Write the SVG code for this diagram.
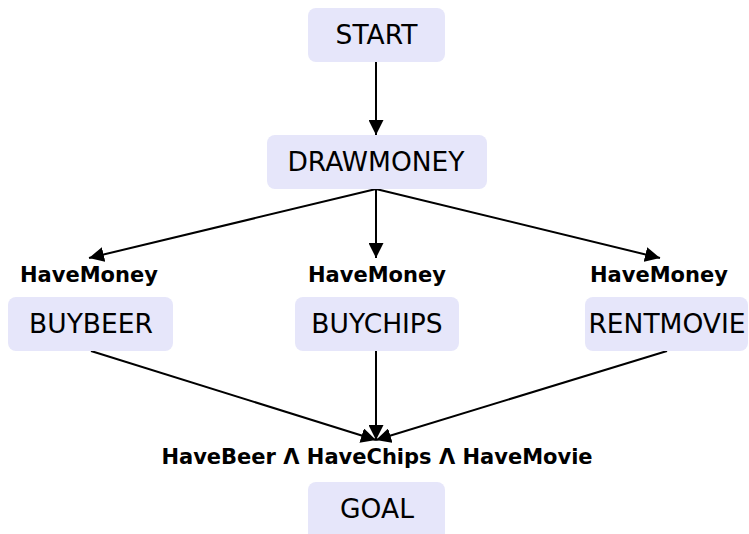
<svg xmlns="http://www.w3.org/2000/svg" width="749" height="534" viewBox="0 0 749 534">
  <style>
    .box { fill: #e6e6fa; }
    .name { font-family: "DejaVu Sans", sans-serif; font-size: 26.5px; fill: #000; text-anchor: middle; }
    .lbl { font-family: "DejaVu Sans", sans-serif; font-weight: bold; font-size: 21px; fill: #000; text-anchor: middle; }
    .edge { stroke: #000; stroke-width: 2; fill: none; marker-end: url(#arrow); }
  </style>
  <defs>
    <marker id="arrow" viewBox="0 0 10 10" refX="10" refY="5" markerWidth="7.5" markerHeight="7.5" orient="auto" markerUnits="strokeWidth">
      <path d="M0,0 L10,5 L0,10 z" fill="#000"/>
    </marker>
  </defs>

  <g id="edges">
    <line class="edge" x1="376" y1="62" x2="376" y2="135"/>
    <line class="edge" x1="376" y1="189" x2="89" y2="258"/>
    <line class="edge" x1="376" y1="189" x2="376" y2="258"/>
    <line class="edge" x1="376" y1="189" x2="660" y2="258"/>
    <line class="edge" x1="91" y1="351" x2="376" y2="440"/>
    <line class="edge" x1="376" y1="351" x2="376" y2="440"/>
    <line class="edge" x1="667" y1="351" x2="376" y2="440"/>
  </g>

  <g id="start">
    <rect class="box" x="308" y="8" width="137" height="54" rx="8"/>
    <text class="name" x="376.5" y="44">START</text>
  </g>
  <g id="drawmoney">
    <rect class="box" x="267" y="135" width="220" height="54" rx="8"/>
    <text class="name" x="376" y="171">DRAWMONEY</text>
  </g>
  <g id="buybeer">
    <rect class="box" x="8" y="297" width="165" height="54" rx="8"/>
    <text class="name" x="91" y="333">BUYBEER</text>
    <text class="lbl" x="89" y="282">HaveMoney</text>
  </g>
  <g id="buychips">
    <rect class="box" x="295" y="297" width="164" height="54" rx="8"/>
    <text class="name" x="377" y="333">BUYCHIPS</text>
    <text class="lbl" x="377" y="282">HaveMoney</text>
  </g>
  <g id="rentmovie">
    <rect class="box" x="585" y="297" width="163" height="54" rx="8"/>
    <text class="name" x="667" y="333">RENTMOVIE</text>
    <text class="lbl" x="659" y="282">HaveMoney</text>
  </g>
  <g id="goal">
    <rect class="box" x="308" y="482" width="137" height="60" rx="8"/>
    <text class="name" x="377" y="518">GOAL</text>
    <text class="lbl" x="377" y="464">HaveBeer Λ HaveChips Λ HaveMovie</text>
  </g>
</svg>
